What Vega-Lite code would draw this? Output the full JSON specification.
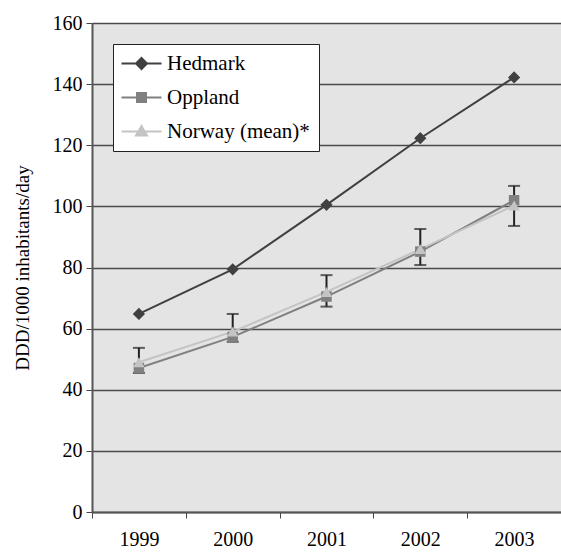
{
  "$schema": "https://vega.github.io/schema/vega-lite/v6.json",
  "width": 469,
  "height": 489,
  "autosize": {"type": "none"},
  "padding": {"left": 92, "top": 23, "right": 0, "bottom": 41},
  "background": "white",
  "config": {
    "view": {"fill": "#e4e4e4", "stroke": null},
    "font": "Liberation Serif",
    "axis": {"labelFont": "Liberation Serif", "titleFont": "Liberation Serif", "labelColor": "#000", "titleColor": "#000"},
    "legend": {"labelFont": "Liberation Serif", "labelFontSize": 21, "labelColor": "#000"}
  },
  "datasets": {
    "s": [
      {"year": "1999", "series": "Hedmark", "value": 64.8},
      {"year": "2000", "series": "Hedmark", "value": 79.4},
      {"year": "2001", "series": "Hedmark", "value": 100.5},
      {"year": "2002", "series": "Hedmark", "value": 122.3},
      {"year": "2003", "series": "Hedmark", "value": 142.2},
      {"year": "1999", "series": "Oppland", "value": 47.1},
      {"year": "2000", "series": "Oppland", "value": 57.3},
      {"year": "2001", "series": "Oppland", "value": 70.5},
      {"year": "2002", "series": "Oppland", "value": 85.2},
      {"year": "2003", "series": "Oppland", "value": 102},
      {"year": "1999", "series": "Norway (mean)*", "value": 49},
      {"year": "2000", "series": "Norway (mean)*", "value": 59},
      {"year": "2001", "series": "Norway (mean)*", "value": 72},
      {"year": "2002", "series": "Norway (mean)*", "value": 86},
      {"year": "2003", "series": "Norway (mean)*", "value": 100.3}
    ],
    "e": [
      {"year": "1999", "lo": 45.5, "hi": 53.7},
      {"year": "2000", "lo": 55.7, "hi": 64.8},
      {"year": "2001", "lo": 67.2, "hi": 77.5},
      {"year": "2002", "lo": 80.8, "hi": 92.6},
      {"year": "2003", "lo": 93.6, "hi": 106.7}
    ]
  },
  "encoding": {
    "x": {
      "field": "year", "type": "ordinal",
      "scale": {"type": "band", "paddingInner": 0, "paddingOuter": 0},
      "axis": {"title": null, "labelAngle": 0, "labelFontSize": 20, "labelPadding": 11, "tickBand": "extent", "tickSize": 6, "tickColor": "#444", "domainColor": "#555", "domainWidth": 2, "grid": false}
    }
  },
  "layer": [
    {
      "data": {"name": "s"},
      "mark": {"type": "line", "strokeWidth": 2},
      "encoding": {
        "y": {
          "field": "value", "type": "quantitative",
          "title": "DDD/1000 inhabitants/day",
          "scale": {"domain": [0, 160], "nice": false},
          "axis": {"titleFontSize": 19, "titleFontWeight": "normal", "titlePadding": 20, "labelFontSize": 20, "labelPadding": 4, "values": [0, 20, 40, 60, 80, 100, 120, 140, 160], "grid": true, "gridColor": "#4a4a4a", "gridWidth": 1.5, "tickSize": 6, "tickColor": "#444", "domainColor": "#555", "domainWidth": 2}
        },
        "color": {
          "field": "series", "type": "nominal",
          "scale": {"domain": ["Hedmark", "Oppland", "Norway (mean)*"], "range": ["#404040", "#808080", "#c4c4c4"]},
          "legend": {"orient": "top-left", "offset": 21, "title": null, "fillColor": "white", "strokeColor": "#222", "padding": 9, "rowPadding": 12, "symbolOffset": 9, "labelOffset": 15, "symbolSize": 100, "symbolStrokeWidth": 2,
            "encode": {"symbols": {"update": {"stroke": {"scale": "color", "field": "value"}, "fill": {"scale": "color", "field": "value"}, "strokeWidth": {"value": 2}, "opacity": {"value": 1}, "shape": {"signal": "datum.value === 'Hedmark' ? 'M-4,0H4M0,-1.1L1.1,0L0,1.1L-1.1,0Z' : datum.value === 'Oppland' ? 'M-4,0H4M-0.9,-0.9H0.9V0.9H-0.9Z' : 'M-4,0H4M0,-1.1L1.1,0.8H-1.1Z'"}}}}}
        }
      }
    },
    {
      "data": {"name": "e"},
      "mark": {"type": "errorbar", "color": "#222", "thickness": 2, "ticks": {"size": 12, "thickness": 2, "color": "#222"}},
      "encoding": {
        "y": {"field": "lo", "type": "quantitative", "title": "DDD/1000 inhabitants/day"},
        "y2": {"field": "hi"}
      }
    },
    {
      "data": {"name": "s"},
      "transform": [{"filter": "datum.series === 'Hedmark'"}],
      "mark": {"type": "point", "shape": "diamond", "filled": true, "size": 150, "color": "#404040", "opacity": 1},
      "encoding": {"y": {"field": "value", "type": "quantitative", "title": "DDD/1000 inhabitants/day"}}
    },
    {
      "data": {"name": "s"},
      "transform": [{"filter": "datum.series === 'Oppland'"}],
      "mark": {"type": "point", "shape": "square", "filled": true, "size": 110, "color": "#808080", "opacity": 1},
      "encoding": {"y": {"field": "value", "type": "quantitative", "title": "DDD/1000 inhabitants/day"}}
    },
    {
      "data": {"name": "s"},
      "transform": [{"filter": "datum.series === 'Norway (mean)*'"}],
      "mark": {"type": "point", "shape": "triangle-up", "filled": true, "size": 130, "color": "#c4c4c4", "opacity": 1},
      "encoding": {"y": {"field": "value", "type": "quantitative", "title": "DDD/1000 inhabitants/day"}}
    }
  ]
}
